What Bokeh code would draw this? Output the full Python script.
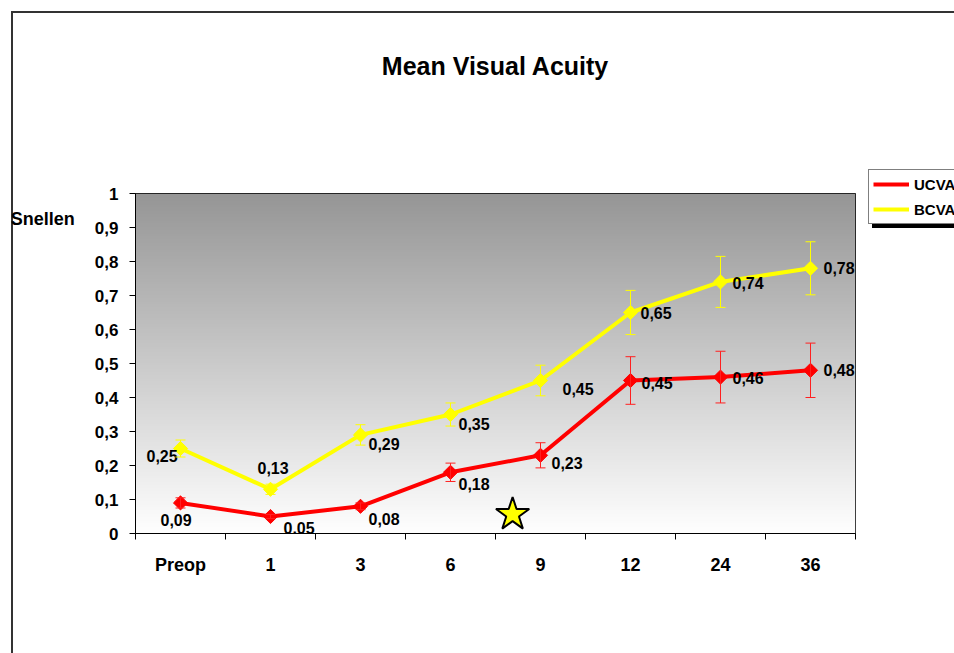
import math
import numpy as np
from bokeh.plotting import figure
from bokeh.models import (Range1d, FixedTicker, CustomJSTickFormatter, Legend, LegendItem,
                          Whisker, TeeHead, ColumnDataSource)
from bokeh.core.properties import value
from bokeh.embed import file_html
from bokeh.resources import INLINE

# ---- data ----
categories = ["Preop", "1", "3", "6", "9", "12", "24", "36"]
ucva = [0.09, 0.05, 0.08, 0.18, 0.23, 0.45, 0.46, 0.48]
ucva_err = [0.015, 0.006, 0.01, 0.027, 0.037, 0.07, 0.076, 0.08]
bcva = [0.25, 0.13, 0.29, 0.35, 0.45, 0.65, 0.74, 0.78]
bcva_err = [0.025, 0.015, 0.03, 0.034, 0.045, 0.065, 0.075, 0.078]
y_ticks = [0, 0.1, 0.2, 0.3, 0.4, 0.5, 0.6, 0.7, 0.8, 0.9, 1]
y_tick_labels = ["0", "0,1", "0,2", "0,3", "0,4", "0,5", "0,6", "0,7", "0,8", "0,9", "1"]
star_x = [4.19]
star_y = [0.056]

# ---- label placement (screen px) ----
ucva_dx = [-20, 13, 8, 8, 11, 11, 12, 13]
ucva_dy = [17, 11, 13, 12, 8, 2, 1, 0]
bcva_dx = [-34, -13, 8, 8, 22, 10, 12, 13]
bcva_dy = [7, -21, 9, 9, 8, 0, 1, 0]

FONT = "Liberation Sans"
n = len(categories)
xs = [i + 0.5 for i in range(n)]

p = figure(frame_width=720, frame_height=340, x_range=Range1d(0, n), y_range=Range1d(0, 1),
           min_border_left=135, min_border_right=99, min_border_top=193, min_border_bottom=120,
           output_backend="svg", toolbar_location=None, tools="")
p.background_fill_color = "white"
p.border_fill_alpha = 0
p.outline_line_color = "black"
p.outline_line_width = 1
p.xgrid.visible = False
p.ygrid.visible = False
# outer chart border and legend shadow, drawn behind the transparent canvas
p.styles = {
    "background": ("linear-gradient(#333,#333) 11px 11px / 2px 1000px no-repeat, "
                   "linear-gradient(#333,#333) 11px 11px / 1000px 2px no-repeat, "
                   "linear-gradient(#000,#000) 872px 175px / 200px 53px no-repeat, "
                   "#ffffff")
}

# title (trailing blank lines lift it well above the plot area)
p.title.text = "Mean Visual Acuity\n\n\n"
p.title.align = "center"
p.title.text_font = FONT
p.title.text_font_style = "bold"
p.title.text_font_size = "25px"
p.title.text_line_height = 1.35
p.title.text_color = "black"
p.title.standoff = 0

# gradient background of plot area
N = 256
g = (255 - (255 - 150) * np.arange(N) / (N - 1)).astype(np.uint8)
rgba = np.zeros((N, 1, 4), dtype=np.uint8)
rgba[:, 0, 0] = g
rgba[:, 0, 1] = g
rgba[:, 0, 2] = g
rgba[:, 0, 3] = 255
img = rgba.view(dtype=np.uint32).reshape((N, 1))
p.image_rgba(image=[img], x=0, y=0, dw=n, dh=1)

# axes
p.xaxis.ticker = FixedTicker(ticks=xs, minor_ticks=list(range(n + 1)))
p.xaxis.formatter = CustomJSTickFormatter(args=dict(labels=categories),
                                          code="return labels[Math.floor(tick)];")
p.xaxis.major_tick_out = 0
p.xaxis.major_tick_in = 0
p.xaxis.minor_tick_out = 6
p.xaxis.minor_tick_in = 0
p.xaxis.major_label_standoff = 15
p.xaxis.major_label_text_font = FONT
p.xaxis.major_label_text_font_style = "bold"
p.xaxis.major_label_text_font_size = "18px"
p.xaxis.major_label_text_color = "black"

p.yaxis.ticker = FixedTicker(ticks=y_ticks, minor_ticks=[])
p.yaxis.formatter = CustomJSTickFormatter(args=dict(labels=y_tick_labels),
                                          code="return labels[Math.round(tick*10)];")
p.yaxis.major_tick_out = 6
p.yaxis.major_tick_in = 0
p.yaxis.major_label_standoff = 11
p.yaxis.major_label_text_font = FONT
p.yaxis.major_label_text_font_style = "bold"
p.yaxis.major_label_text_font_size = "17px"
p.yaxis.major_label_text_color = "black"
p.yaxis.axis_label = "\n\n\nSnellen"
p.yaxis.axis_label_text_font = FONT
p.yaxis.axis_label_text_font_style = "bold"
p.yaxis.axis_label_text_font_size = "18px"
p.yaxis.axis_label_text_line_height = 0.85
p.yaxis.axis_label_text_color = "black"
p.yaxis.axis_label_standoff = 17
p.yaxis.axis_label_orientation = "horizontal"
p.yaxis.axis_label_align = "end"
for ax in (p.xaxis, p.yaxis):
    ax.axis_line_color = "black"
    ax.axis_line_width = 1
    ax.major_tick_line_color = "black"
    ax.minor_tick_line_color = "black"

# error bars
src_u = ColumnDataSource(dict(x=xs, y=ucva, lo=[v - e for v, e in zip(ucva, ucva_err)],
                              hi=[v + e for v, e in zip(ucva, ucva_err)],
                              t=[f"{v:.2f}".replace(".", ",") for v in ucva], dx=ucva_dx, dy=ucva_dy))
src_b = ColumnDataSource(dict(x=xs, y=bcva, lo=[v - e for v, e in zip(bcva, bcva_err)],
                              hi=[v + e for v, e in zip(bcva, bcva_err)],
                              t=[f"{v:.2f}".replace(".", ",") for v in bcva], dx=bcva_dx, dy=bcva_dy))
for src, col in ((src_u, "#ff2020"), (src_b, "#ffff00")):
    w = Whisker(source=src, base="x", lower="lo", upper="hi", dimension="height",
                line_color=col, line_width=1,
                upper_head=TeeHead(size=10, line_color=col, line_width=1),
                lower_head=TeeHead(size=10, line_color=col, line_width=1))
    w.level = "glyph"
    p.add_layout(w)

lu = p.line("x", "y", source=src_u, line_color="#ff0000", line_width=4)
p.scatter("x", "y", source=src_u, marker="square", angle=math.pi / 4, size=10,
          fill_color="#ff0000", line_color="#ff0000")
lb = p.line("x", "y", source=src_b, line_color="#ffff00", line_width=4)
p.scatter("x", "y", source=src_b, marker="square", angle=math.pi / 4, size=10,
          fill_color="#ffff00", line_color="#ffff00")
# legend-only diamond glyphs (no data points)
ku = p.scatter(x=[], y=[], marker="diamond", size=17, fill_color="#ff0000", line_color="#ff0000")
kb = p.scatter(x=[], y=[], marker="diamond", size=17, fill_color="#ffff00", line_color="#ffff00")

for src in (src_u, src_b):
    p.text("x", "y", text="t", source=src, x_offset="dx", y_offset="dy",
           text_align="left", text_baseline="middle", text_font=value(FONT),
           text_font_style="bold", text_font_size="16px", text_color="black")

p.scatter(star_x, star_y, marker="star", size=35, fill_color="#ffff00", line_color="black", line_width=2)

legend = Legend(items=[LegendItem(label="UCVA", renderers=[lu, ku]),
                       LegendItem(label="BCVA", renderers=[lb, kb])],
                location=(13, 309), orientation="vertical",
                glyph_width=36, glyph_height=20, label_standoff=5, spacing=5, padding=4, margin=0,
                border_line_color="black", border_line_width=1, background_fill_color="white",
                background_fill_alpha=1, label_text_font=FONT, label_text_font_style="bold",
                label_text_font_size="15px", label_text_color="black")
p.add_layout(legend, "right")

open("out.html", "w").write(file_html(p, INLINE))
